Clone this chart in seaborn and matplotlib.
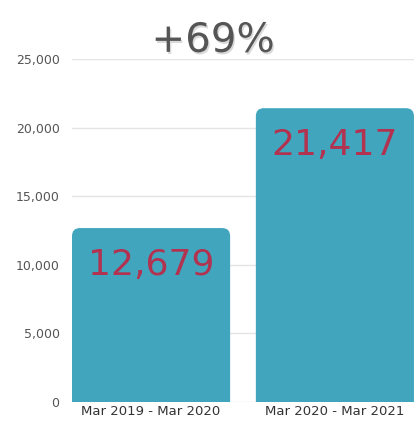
import matplotlib
matplotlib.use("Agg")
import matplotlib.pyplot as plt
import matplotlib.patheffects as pe
import matplotlib.transforms as mtransforms
from matplotlib.patches import FancyBboxPatch
import seaborn as sns
import pandas as pd

categories = ["Mar 2019 - Mar 2020", "Mar 2020 - Mar 2021"]
values = [12679, 21417]
value_labels = ["12,679", "21,417"]
headline = "+69%"
yticks = [0, 5000, 10000, 15000, 20000, 25000]
ytick_labels = ["0", "5,000", "10,000", "15,000", "20,000", "25,000"]

bar_color = "#41A6BD"
label_color = "#B23250"
text_gray = "#555555"

sns.set_theme(style="white")
plt.rcParams["font.family"] = ["DejaVu Sans"]

df = pd.DataFrame({"period": categories, "count": values})

fig = plt.figure(figsize=(4.16, 4.21), dpi=100)
ax = fig.add_axes([0.1731, 0.0451, 0.822, 0.8147])

sns.barplot(data=df, x="period", y="count", color=bar_color, width=0.86,
            saturation=1, ax=ax, zorder=2)

ax.set_xlim(-0.43, 1.43)
ax.set_ylim(0, 25000)

# Replace bars with rounded-top versions of the same geometry
r = 0.0435
for p in list(ax.patches):
    x0, y0 = p.get_x(), p.get_y()
    w, h = p.get_width(), p.get_height()
    p.set_visible(False)
    fb = FancyBboxPatch((x0, y0 - 2000), w, h + 2000,
                        boxstyle=f"round,pad=0,rounding_size={r}",
                        mutation_aspect=13400, facecolor=bar_color,
                        edgecolor="none", zorder=2, clip_on=True)
    fb.set_clip_path(ax.patch)
    ax.add_patch(fb)

offset = mtransforms.ScaledTranslation(0, -37 / 100, fig.dpi_scale_trans)
for i, (v, lab) in enumerate(zip(values, value_labels)):
    ax.text(i, v, lab, ha="center", va="center", fontsize=26,
            color=label_color, zorder=3, transform=ax.transData + offset)

ax.set_yticks(yticks)
ax.set_yticklabels(ytick_labels)
ax.yaxis.grid(True, color="#e4e4e4", linewidth=1)
ax.xaxis.grid(False)
ax.set_axisbelow(True)
for s in ax.spines.values():
    s.set_visible(False)
ax.tick_params(axis="y", length=0, pad=9, labelsize=9, labelcolor=text_gray)
ax.tick_params(axis="x", length=0, pad=2.5, labelsize=9.5, labelcolor="#333333")
ax.set_xlabel("")
ax.set_ylabel("")

fig.text(0.512, 0.903, headline, ha="center", va="center", fontsize=29,
         color=text_gray,
         path_effects=[pe.SimplePatchShadow(offset=(1, -1.5), shadow_rgbFace="#000000", alpha=0.15),
                       pe.Normal()])

fig.savefig("out.png", dpi=100)
